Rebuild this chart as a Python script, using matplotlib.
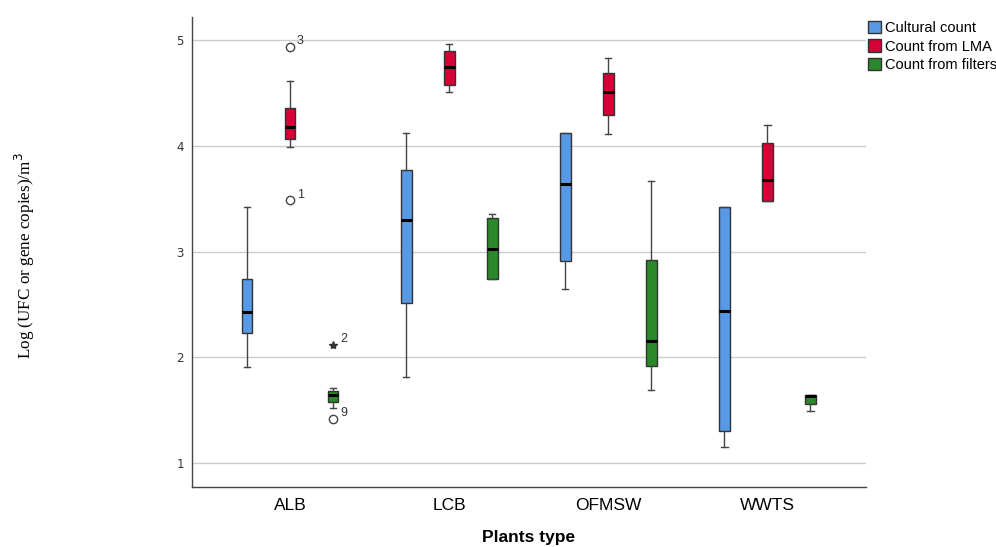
import matplotlib
matplotlib.use('Agg')
import matplotlib.pyplot as plt
from matplotlib.patches import Patch

# categories and series
plants = ['ALB', 'LCB', 'OFMSW', 'WWTS']
series = ['Cultural count', 'Count from LMA', 'Count from filters']
colors = ['#5899E6', '#D60036', '#2B882B']

# five-number summaries: whislo, q1, med, q3, whishi
cultural = [
    [1.91, 2.23, 2.43, 2.745, 3.42],
    [1.81, 2.51, 3.30, 3.77, 4.12],
    [2.65, 2.91, 3.64, 4.12, 4.12],
    [1.15, 1.30, 2.44, 3.42, 3.42],
]
lma = [
    [3.99, 4.065, 4.175, 4.355, 4.61],
    [4.51, 4.58, 4.75, 4.90, 4.96],
    [4.11, 4.29, 4.51, 4.69, 4.83],
    [3.48, 3.48, 3.68, 4.03, 4.20],
]
filters = [
    [1.52, 1.58, 1.645, 1.685, 1.71],
    [2.74, 2.745, 3.02, 3.32, 3.36],
    [1.69, 1.92, 2.155, 2.92, 3.67],
    [1.49, 1.56, 1.63, 1.64, 1.64],
]
all_series = [cultural, lma, filters]

# outliers: (plant index, series index, value, case label, marker)
outliers = [
    (0, 1, 4.94, '3', 'o'),
    (0, 1, 3.485, '1', 'o'),
    (0, 2, 2.115, '2', '*'),
    (0, 2, 1.415, '9', 'o'),
]

offsets = [-0.27, 0.0, 0.27]
box_w = 0.068

fig = plt.figure(figsize=(9.96, 5.47), dpi=100)
ax = fig.add_axes([0.1928, 0.1097, 0.6767, 0.8593])

for s, data in enumerate(all_series):
    stats = []
    for p, (lo, q1, med, q3, hi) in enumerate(data):
        stats.append(dict(whislo=lo, q1=q1, med=med, q3=q3, whishi=hi, fliers=[]))
    pos = [p + offsets[s] for p in range(len(plants))]
    ax.bxp(stats, positions=pos, widths=box_w, patch_artist=True,
           showfliers=False, manage_ticks=False,
           boxprops=dict(facecolor=colors[s], edgecolor='#333333', linewidth=1.0),
           medianprops=dict(color='black', linewidth=2.2),
           whiskerprops=dict(color='#444444', linewidth=1.0),
           capprops=dict(color='#444444', linewidth=1.0),
           capwidths=0.04)

for p, s, v, lab, mk in outliers:
    x = p + offsets[s]
    if mk == 'o':
        ax.plot(x, v, 'o', ms=6, mfc='none', mec='#444444', mew=1.0)
    else:
        ax.plot(x, v, '*', ms=6, color='#333333')
    ax.annotate(lab, (x, v), xytext=(5, 2), textcoords='offset points',
                fontsize=9, color='#333333', family='Liberation Sans')

ax.set_xlim(-0.616, 3.62)
ax.set_ylim(0.773, 5.22)
ax.set_yticks([1, 2, 3, 4, 5])
ax.set_xticks(range(len(plants)))
ax.set_xticklabels(plants, family='Liberation Sans', fontsize=12.5)
ax.tick_params(axis='x', length=0, pad=8)
ax.tick_params(axis='y', length=0, pad=6, labelsize=8.5, labelcolor='#333333')
ax.grid(axis='y', color='#CCCCCC', linewidth=1.0)
ax.set_axisbelow(True)
for sp in ['top', 'right']:
    ax.spines[sp].set_visible(False)
for sp in ['left', 'bottom']:
    ax.spines[sp].set_color('#444444')
    ax.spines[sp].set_linewidth(1.0)

ax.set_xlabel('Plants type', family='Liberation Sans', fontsize=12.5, fontweight='bold', labelpad=12)
fig.text(0.025, 0.532, 'Log (UFC or gene copies)/m$^3$', rotation=90, family='Liberation Serif',
         fontsize=12.3, ha='center', va='center')

handles = [Patch(facecolor=c, edgecolor='#333333', linewidth=1.0) for c in colors]
fig.legend(handles, series, loc='upper left', bbox_to_anchor=(0.8715, 0.961), frameon=False,
           prop=dict(family='Liberation Sans', size=10.5), handlelength=0.9, handleheight=0.9,
           handletextpad=0.25, labelspacing=0.28, borderaxespad=0, borderpad=0)

fig.savefig('out.png', dpi=100)
